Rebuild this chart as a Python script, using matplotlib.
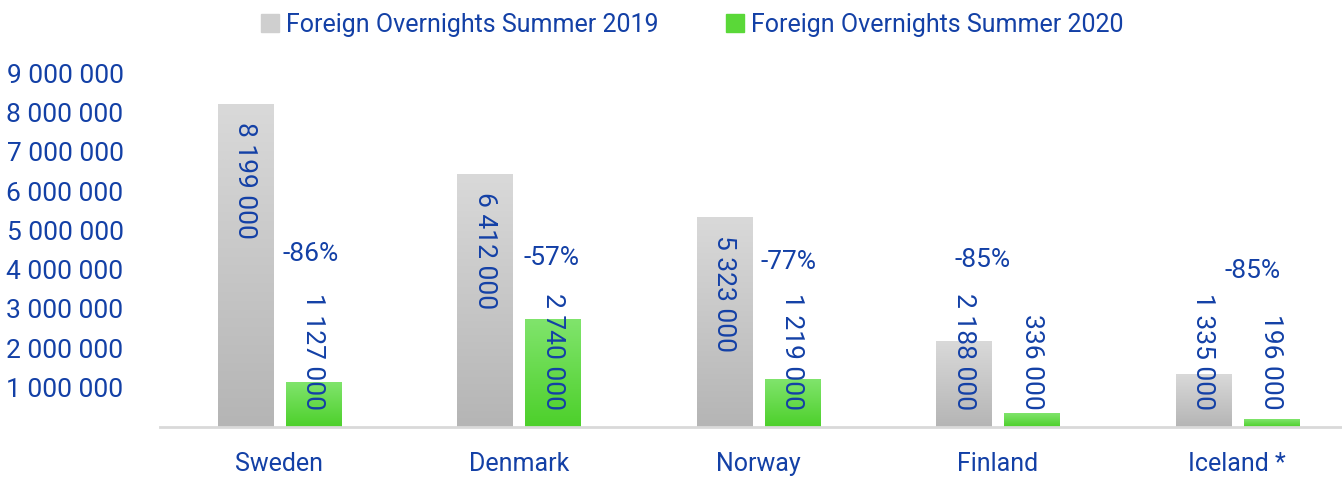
import numpy as np
import matplotlib.pyplot as plt
from matplotlib.patches import Rectangle

countries = ['Sweden', 'Denmark', 'Norway', 'Finland', 'Iceland *']
summer_2019 = [8199000, 6412000, 5323000, 2188000, 1335000]
summer_2020 = [1127000, 2740000, 1219000, 336000, 196000]
series_names = ['Foreign Overnights Summer 2019', 'Foreign Overnights Summer 2020']
yticks = [1000000, 2000000, 3000000, 4000000, 5000000, 6000000, 7000000, 8000000, 9000000]

# where the percentage labels sit (x offset from category centre, height)
pct_dx = [0.13, 0.135, 0.127, -0.064, 0.066]
pct_y = [4390000, 4290000, 4190000, 4240000, 3960000]

blue = '#1340a6'
grey_grad = ('#d9d9d9', '#b5b5b5')
green_grad = ('#80e46c', '#4dd02b')

plt.rcParams['font.family'] = ['Roboto', 'DejaVu Sans']

fig = plt.figure(figsize=(13.42, 4.78), dpi=100)
ax = fig.add_axes([0.119, 0.107, 0.892, 0.740])


def fmt(v):
    return f'{v:,}'.replace(',', ' ')


def gradient_fill(ax, patch, colors):
    top, bottom = [np.array(plt.matplotlib.colors.to_rgb(c)) for c in colors]
    t = np.linspace(0, 1, 64)[:, None]
    img = (top * (1 - t) + bottom * t)[:, None, :]
    x0, y0 = patch.get_x(), patch.get_y()
    w, h = patch.get_width(), patch.get_height()
    ax.imshow(img, extent=[x0, x0 + w, y0, y0 + h], aspect='auto',
              origin='upper', zorder=2, interpolation='bicubic')
    patch.set_alpha(0)


x = np.arange(len(countries))
w = 0.23
off = 0.142
bars1 = ax.bar(x - off, summer_2019, w, color=grey_grad[1], zorder=2)
bars2 = ax.bar(x + off, summer_2020, w, color=green_grad[1], zorder=2)
for p in bars1:
    gradient_fill(ax, p, grey_grad)
for p in bars2:
    gradient_fill(ax, p, green_grad)

ax.set_xlim(-0.5, len(countries) - 0.5)
ax.set_ylim(0, 9000000)

# value labels inside bars, reading downward
margin = 430000
text_len = 2870000
for bars, vals in [(bars1, summer_2019), (bars2, summer_2020)]:
    for p, v in zip(bars, vals):
        cx = p.get_x() + p.get_width() / 2
        if v > text_len + 2 * margin:
            ax.text(cx, v - margin, fmt(v), rotation=-90, ha='center', va='top',
                    color=blue, fontsize=19, zorder=3)
        else:
            ax.text(cx, margin, fmt(v), rotation=-90, ha='center', va='bottom',
                    color=blue, fontsize=19, zorder=3)

for i, (a, b) in enumerate(zip(summer_2019, summer_2020)):
    pct = round((b - a) / a * 100)
    ax.text(x[i] + pct_dx[i], pct_y[i], f'{pct}%', ha='center', va='center',
            color=blue, fontsize=19, zorder=3)

ax.set_yticks(yticks)
ax.set_yticklabels([fmt(v) for v in yticks])
ax.set_xticks(x)
ax.set_xticklabels(countries)
ax.tick_params(axis='y', length=0, pad=26, labelsize=19, labelcolor=blue)
ax.tick_params(axis='x', length=0, pad=18, labelsize=18, labelcolor=blue)
for s in ['top', 'right', 'left']:
    ax.spines[s].set_visible(False)
ax.spines['bottom'].set_color('#d9d9d9')
ax.spines['bottom'].set_linewidth(2)

handles = [Rectangle((0, 0), 1, 1, color='#cfcfcf'), Rectangle((0, 0), 1, 1, color='#5ad838')]
fig.legend(handles, series_names, loc='upper center', bbox_to_anchor=(0.516, 1.02),
           ncol=2, frameon=False, fontsize=18, labelcolor=blue,
           handlelength=0.7, handleheight=0.7, handletextpad=0.3, columnspacing=2.7)

fig.savefig('out.png', dpi=100)
